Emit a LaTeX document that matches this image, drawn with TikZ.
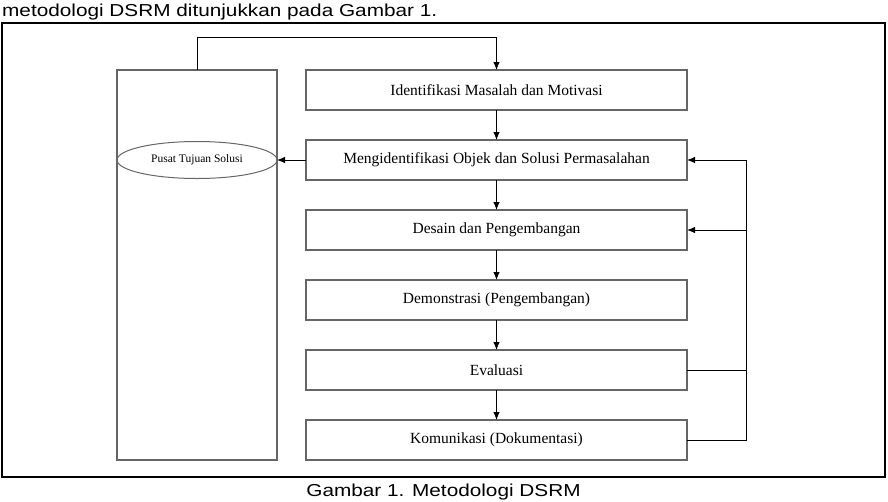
\documentclass[tikz,border=0pt]{standalone}
\usepackage{fontspec}
\setmainfont{Liberation Serif}
\newfontfamily\arial{Liberation Sans}
\usetikzlibrary{positioning,shapes.geometric,arrows.meta}
\begin{document}
\begin{tikzpicture}[x=1pt,y=-1pt,
    kotak/.style={draw=black!60,line width=1.1pt,minimum width=381pt,minimum height=40pt,inner sep=0pt,outer sep=0pt,font=\fontsize{15.5}{18}\selectfont},
    panah/.style={-{Latex[length=8pt,width=6.5pt]},line width=0.9pt},
    garis/.style={line width=0.9pt}]
    \useasboundingbox (0,0) rectangle (888,501);
    \node[anchor=base west,inner sep=0pt] (teks) at (2,16) {\arial\fontsize{17.3}{20}\selectfont\scalebox{1.2}[1]{metodologi DSRM ditunjukkan pada Gambar 1.}};
    \draw[line width=1.8pt] (2,23) rectangle (885,477);
    \node[draw=black!60,line width=1.1pt,minimum width=160pt,minimum height=390pt,inner sep=0pt,outer sep=0pt] (pusat) at (197,265) {};
    \node[draw=black!60,line width=1pt,ellipse,minimum width=160pt,minimum height=37pt,inner sep=0pt,outer sep=0pt,font=\fontsize{11.5}{13}\selectfont] (tujuan) at (197,160) {Pusat Tujuan Solusi};
    \node[kotak] (b1) at (496.5,90) {Identifikasi Masalah dan Motivasi};
    \node[kotak,below=30pt of b1] (b2) {Mengidentifikasi Objek dan Solusi Permasalahan};
    \node[kotak,below=30pt of b2] (b3) {Desain dan Pengembangan};
    \node[kotak,below=30pt of b3] (b4) {Demonstrasi (Pengembangan)};
    \node[kotak,below=30pt of b4] (b5) {Evaluasi};
    \node[kotak,below=30pt of b5] (b6) {Komunikasi (Dokumentasi)};
    \coordinate (atas) at (197,37);
    \coordinate (jalur) at (746,0);
    \draw[panah] (pusat.north) -- (atas) -| (b1.north);
    \draw[panah] (b1) -- (b2);
    \draw[panah] (b2) -- (b3);
    \draw[panah] (b3) -- (b4);
    \draw[panah] (b4) -- (b5);
    \draw[panah] (b5) -- (b6);
    \draw[panah] (b2.west) -- (tujuan.east);
    \draw[panah] (b6.east) -| (b2.east -| jalur) -- (b2.east);
    \draw[garis] (b5.east) -- (b5.east -| jalur);
    \draw[panah] (b3.east -| jalur) -- (b3.east);
    \node[anchor=base,inner sep=0pt] (judul) at (443.5,496) {\arial\fontsize{17.3}{20}\selectfont\scalebox{1.2}[1]{Gambar 1. Metodologi DSRM}};
\end{tikzpicture}
\end{document}
